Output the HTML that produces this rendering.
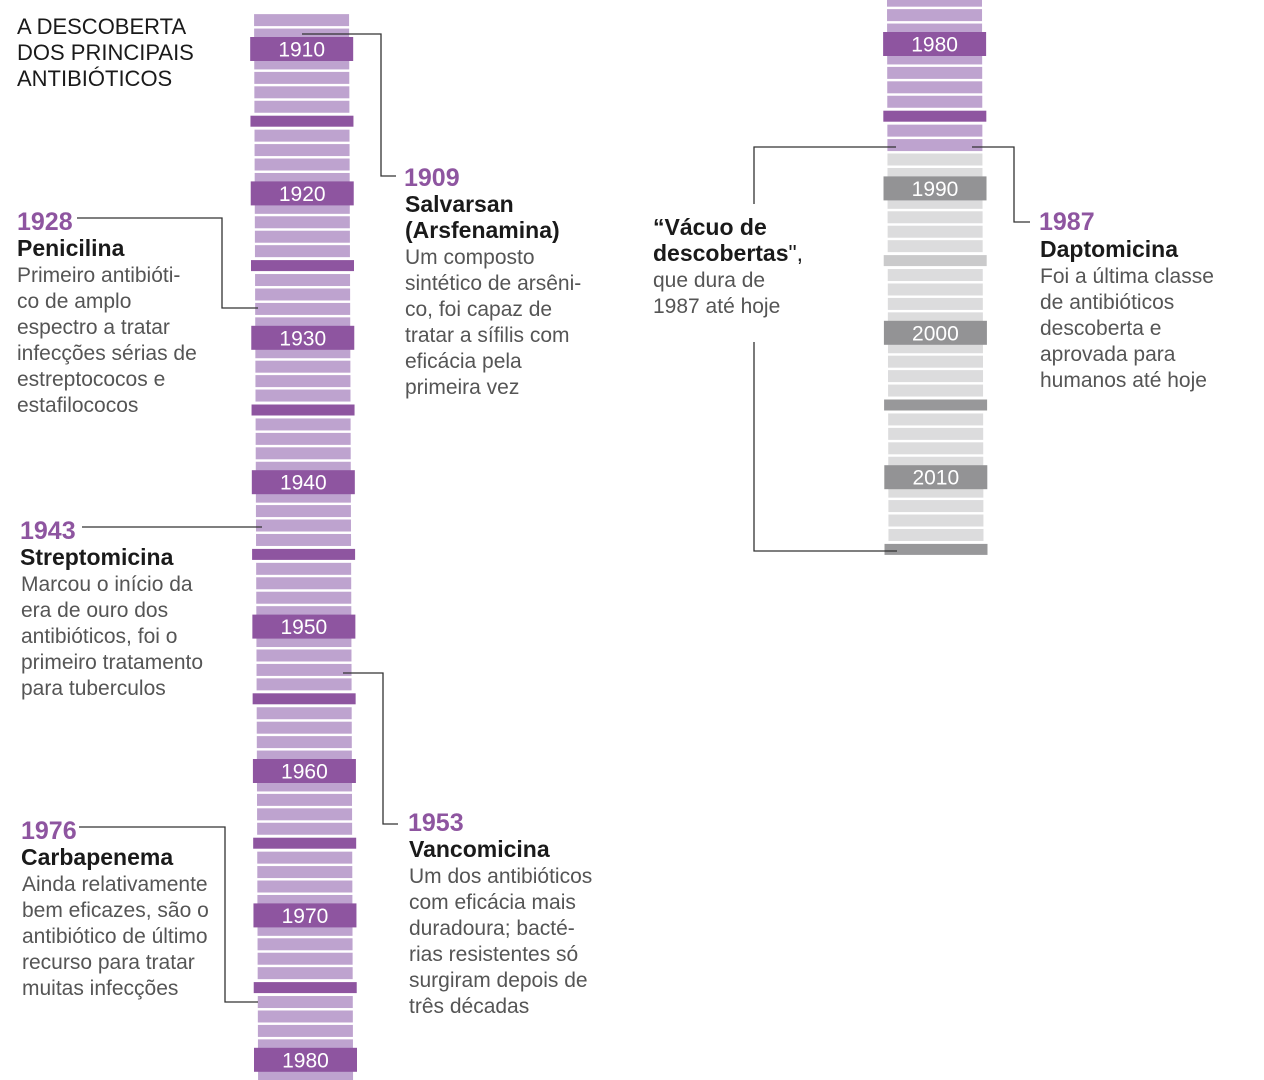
<!DOCTYPE html>
<html><head><meta charset="utf-8"><style>
html,body{margin:0;padding:0;background:#fff;}
svg{display:block;}
text{font-family:"Liberation Sans Narrow","Liberation Sans",sans-serif;}
.t{font-size:22px;fill:#1a1a1a;}
.yr{font-size:25px;fill:#8e55a0;font-weight:bold;}
.nm{font-size:23px;fill:#1a1a1a;font-weight:bold;}
.bd{font-size:21px;fill:#555;}
.lb{font-size:21px;fill:#fff;text-anchor:middle;}
.ln{fill:none;stroke:#333;stroke-width:1.3;}
</style></head><body>
<svg id="chart" width="1264" height="1080" viewBox="0 0 1264 1080">
<g id="bars"></g>
<g>
<text class="t" x="17" y="34">A DESCOBERTA</text>
<text class="t" x="17" y="60">DOS PRINCIPAIS</text>
<text class="t" x="17" y="86">ANTIBIÓTICOS</text>
</g>
<g>
<polyline class="ln" points="302,34 381,34 381,176 396,176"/>
<text class="yr" x="404" y="186">1909</text>
<text class="nm" x="405" y="212">Salvarsan</text>
<text class="nm" x="405" y="238">(Arsfenamina)</text>
<text class="bd" x="405" y="264">Um composto</text>
<text class="bd" x="405" y="290">sintético de arsêni-</text>
<text class="bd" x="405" y="316">co, foi capaz de</text>
<text class="bd" x="405" y="342">tratar a sífilis com</text>
<text class="bd" x="405" y="368">eficácia pela</text>
<text class="bd" x="405" y="394">primeira vez</text>
</g>
<g>
<polyline class="ln" points="77,218 222,218 222,308 258,308"/>
<text class="yr" x="17" y="230">1928</text>
<text class="nm" x="17" y="256">Penicilina</text>
<text class="bd" x="17" y="282">Primeiro antibióti-</text>
<text class="bd" x="17" y="308">co de amplo</text>
<text class="bd" x="17" y="334">espectro a tratar</text>
<text class="bd" x="17" y="360">infecções sérias de</text>
<text class="bd" x="17" y="386">estreptococos e</text>
<text class="bd" x="17" y="412">estafilococos</text>
</g>
<g>
<polyline class="ln" points="82,527 262,527"/>
<text class="yr" x="20" y="539">1943</text>
<text class="nm" x="20" y="565">Streptomicina</text>
<text class="bd" x="21" y="591">Marcou o início da</text>
<text class="bd" x="21" y="617">era de ouro dos</text>
<text class="bd" x="21" y="643">antibióticos, foi o</text>
<text class="bd" x="21" y="669">primeiro tratamento</text>
<text class="bd" x="21" y="695">para tuberculos</text>
</g>
<g>
<polyline class="ln" points="343,673 383,673 383,824 398,824"/>
<text class="yr" x="408" y="831">1953</text>
<text class="nm" x="409" y="857">Vancomicina</text>
<text class="bd" x="409" y="883">Um dos antibióticos</text>
<text class="bd" x="409" y="909">com eficácia mais</text>
<text class="bd" x="409" y="935">duradoura; bacté-</text>
<text class="bd" x="409" y="961">rias resistentes só</text>
<text class="bd" x="409" y="987">surgiram depois de</text>
<text class="bd" x="409" y="1013">três décadas</text>
</g>
<g>
<polyline class="ln" points="79,827 225,827 225,1002 258,1002"/>
<text class="yr" x="21" y="839">1976</text>
<text class="nm" x="21" y="865">Carbapenema</text>
<text class="bd" x="22" y="891">Ainda relativamente</text>
<text class="bd" x="22" y="917">bem eficazes, são o</text>
<text class="bd" x="22" y="943">antibiótico de último</text>
<text class="bd" x="22" y="969">recurso para tratar</text>
<text class="bd" x="22" y="995">muitas infecções</text>
</g>
<g>
<polyline class="ln" points="972,147 1014,147 1014,222 1030,222"/>
<text class="yr" x="1039" y="230">1987</text>
<text class="nm" x="1040" y="257">Daptomicina</text>
<text class="bd" x="1040" y="283">Foi a última classe</text>
<text class="bd" x="1040" y="309">de antibióticos</text>
<text class="bd" x="1040" y="335">descoberta e</text>
<text class="bd" x="1040" y="361">aprovada para</text>
<text class="bd" x="1040" y="387">humanos até hoje</text>
</g>
<g>
<polyline class="ln" points="896,147 754,147 754,204"/>
<polyline class="ln" points="754,342 754,551 897,551"/>
<text class="nm" x="653" y="235">“Vácuo de</text>
<text class="nm" x="653" y="261">descobertas<tspan font-weight="normal">",</tspan></text>
<text class="bd" x="653" y="287">que dura de</text>
<text class="bd" x="653" y="313">1987 até hoje</text>
</g>
</svg>
<script>
const leftYears = [1908, 1981];
const rightYears = [1977, 2015];
const lastDiscovery = 1987;
const decadeLabels = [1910,1920,1930,1940,1950,1960,1970,1980,1990,2000,2010];
function leftY(yr){ return 49 + (yr-1910)*14.44; }
function rightY(yr){ return 44 + (yr-1980)*14.44; }
function leftX(y){ return 254 + (y/1060)*4; }
function rightX(y){ return 887 + (y/550)*1.5; }
const NS='http://www.w3.org/2000/svg';
const g=document.getElementById('bars');
function drawColumn(range, yf, xf){
  for(let yr=range[0]; yr<=range[1]; yr++){
    const yc=yf(yr), x=xf(yc);
    const purple = yr<=lastDiscovery;
    if(yr%10!==0 && yr%10!==5){
      const r=document.createElementNS(NS,'rect');
      r.setAttribute('x',x); r.setAttribute('y',yc-6); r.setAttribute('width',95); r.setAttribute('height',12);
      r.setAttribute('fill',purple?'#bea3cf':'#dcdcdd');
      
      
      g.appendChild(r);
    }
  }
  for(let yr=range[0]; yr<=range[1]; yr++){
    const yc=yf(yr), x=xf(yc);
    const purple = yr<=lastDiscovery;
    if(yr%10===5){
      const r=document.createElementNS(NS,'rect');
      r.setAttribute('x',x-4); r.setAttribute('y',yc-5.5); r.setAttribute('width',103); r.setAttribute('height',11);
      r.setAttribute('fill',purple?'#8e55a0':(yr===1995?'#cacacb':'#98989a'));
      
      
      g.appendChild(r);
    }
    if(decadeLabels.includes(yr)){
      const r=document.createElementNS(NS,'rect');
      r.setAttribute('x',x-4); r.setAttribute('y',yc-12); r.setAttribute('width',103); r.setAttribute('height',24);
      r.setAttribute('fill',purple?'#8e55a0':'#939395');
      
      
      g.appendChild(r);
      const t=document.createElementNS(NS,'text');
      t.setAttribute('class','lb'); t.setAttribute('x',x+47.5); t.setAttribute('y',yc+7.5);
      t.textContent=yr;
      
      
      g.appendChild(t);
    }
  }
}
drawColumn(leftYears, leftY, leftX);
drawColumn(rightYears, rightY, rightX);
</script>
</body></html>
